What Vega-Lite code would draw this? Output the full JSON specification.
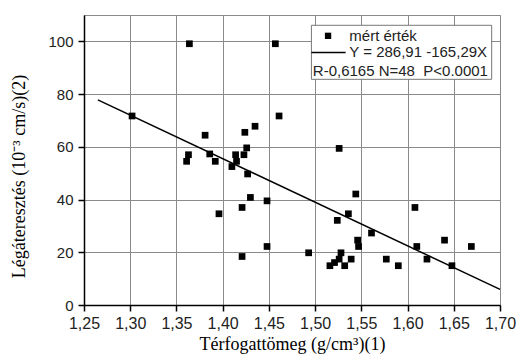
{
  "$schema": "https://vega.github.io/schema/vega-lite/v6.json",
  "width": 416,
  "height": 290,
  "autosize": {"type": "none"},
  "padding": {"left": 84, "top": 15, "right": 17, "bottom": 51},
  "background": "white",
  "config": {
    "view": {"stroke": "#8a8a8a", "strokeWidth": 1},
    "axis": {
      "grid": true,
      "gridColor": "#8a8a8a",
      "gridWidth": 1,
      "domainColor": "black",
      "domainWidth": 1.5,
      "tickColor": "black",
      "tickWidth": 1.5,
      "labelFont": "Liberation Sans",
      "labelFontSize": 15,
      "labelColor": "#222222",
      "labelOverlap": false,
      "labelFlush": false,
      "titleFont": "Liberation Serif",
      "titleFontSize": 18,
      "titleFontWeight": "normal",
      "titleColor": "black"
    }
  },
  "datasets": {
    "points": [
      {"density": 1.302, "permeability": 71.7},
      {"density": 1.361, "permeability": 54.5},
      {"density": 1.363, "permeability": 57.0},
      {"density": 1.364, "permeability": 99.1},
      {"density": 1.381, "permeability": 64.4},
      {"density": 1.386, "permeability": 57.3},
      {"density": 1.392, "permeability": 54.5},
      {"density": 1.396, "permeability": 34.6},
      {"density": 1.410, "permeability": 52.5},
      {"density": 1.414, "permeability": 57.0},
      {"density": 1.415, "permeability": 54.5},
      {"density": 1.421, "permeability": 37.0},
      {"density": 1.421, "permeability": 18.4},
      {"density": 1.423, "permeability": 57.0},
      {"density": 1.424, "permeability": 65.5},
      {"density": 1.426, "permeability": 59.6},
      {"density": 1.427, "permeability": 49.7},
      {"density": 1.430, "permeability": 40.8},
      {"density": 1.435, "permeability": 67.8},
      {"density": 1.448, "permeability": 39.5},
      {"density": 1.448, "permeability": 22.2},
      {"density": 1.457, "permeability": 99.1},
      {"density": 1.461, "permeability": 71.7},
      {"density": 1.493, "permeability": 19.8},
      {"density": 1.516, "permeability": 14.9},
      {"density": 1.521, "permeability": 16.1},
      {"density": 1.524, "permeability": 32.1},
      {"density": 1.526, "permeability": 17.4},
      {"density": 1.526, "permeability": 59.4},
      {"density": 1.528, "permeability": 19.8},
      {"density": 1.532, "permeability": 14.9},
      {"density": 1.536, "permeability": 34.6},
      {"density": 1.539, "permeability": 17.4},
      {"density": 1.544, "permeability": 42.1},
      {"density": 1.546, "permeability": 24.6},
      {"density": 1.547, "permeability": 22.2},
      {"density": 1.561, "permeability": 27.3},
      {"density": 1.577, "permeability": 17.4},
      {"density": 1.590, "permeability": 14.9},
      {"density": 1.608, "permeability": 37.0},
      {"density": 1.610, "permeability": 22.2},
      {"density": 1.621, "permeability": 17.4},
      {"density": 1.640, "permeability": 24.6},
      {"density": 1.648, "permeability": 14.9},
      {"density": 1.669, "permeability": 22.2}
    ],
    "fit": [
      {"density": 1.265, "permeability": 77.82},
      {"density": 1.70, "permeability": 5.92}
    ]
  },
  "layer": [
    {
      "data": {"name": "points"},
      "mark": {"type": "square", "size": 45, "color": "black", "opacity": 1},
      "encoding": {
        "x": {
          "field": "density",
          "type": "quantitative",
          "scale": {"domain": [1.25, 1.7], "nice": false, "zero": false},
          "axis": {
            "title": "Térfogattömeg (g/cm³)(1)",
            "values": [1.25, 1.275, 1.3, 1.325, 1.35, 1.375, 1.4, 1.425, 1.45, 1.475, 1.5, 1.525, 1.55, 1.575, 1.6, 1.625, 1.65, 1.675, 1.7],
            "labelExpr": "round(datum.value*40)%2==1 ? '' : replace(format(datum.value,'.2f'),'.',',')",
            "tickSize": {"condition": {"test": "round(datum.value*40)%2==1", "value": 3}, "value": 6},
            "gridOpacity": {"condition": {"test": "round(datum.value*40)%2==1", "value": 0}, "value": 1},
            "labelFontSize": 16,
            "labelPadding": 4,
            "titlePadding": 4
          }
        },
        "y": {
          "field": "permeability",
          "type": "quantitative",
          "scale": {"domain": [0, 110], "nice": false},
          "axis": {
            "title": "Légáteresztés (10⁻³ cm/s)(2)",
            "values": [0, 10, 20, 30, 40, 50, 60, 70, 80, 90, 100],
            "labelExpr": "datum.value % 20 == 10 ? '' : format(datum.value,'d')",
            "tickSize": {"condition": {"test": "datum.value % 20 == 10", "value": 3}, "value": 6},
            "gridOpacity": {"condition": {"test": "datum.value % 20 == 10", "value": 0}, "value": 1},
            "labelPadding": 5,
            "titlePadding": 19,
            "titleY": 161
          }
        }
      }
    },
    {
      "data": {"name": "fit"},
      "mark": {"type": "line", "color": "black", "strokeWidth": 1.5},
      "encoding": {
        "x": {"field": "density", "type": "quantitative"},
        "y": {"field": "permeability", "type": "quantitative"}
      }
    },
    {
      "data": {"values": [{}]},
      "mark": {"type": "rect", "fill": "white", "stroke": "#777777", "strokeWidth": 1},
      "encoding": {
        "x": {"datum": 1.496, "type": "quantitative"},
        "x2": {"datum": 1.691},
        "y": {"datum": 106.1, "type": "quantitative"},
        "y2": {"datum": 85.6}
      }
    },
    {
      "data": {"values": [{}]},
      "mark": {"type": "square", "size": 40, "color": "black", "opacity": 1},
      "encoding": {
        "x": {"datum": 1.514, "type": "quantitative"},
        "y": {"datum": 102.1, "type": "quantitative"}
      }
    },
    {
      "data": {"values": [{}]},
      "mark": {"type": "rule", "color": "black", "strokeWidth": 1.5},
      "encoding": {
        "x": {"datum": 1.496, "type": "quantitative"},
        "x2": {"datum": 1.533},
        "y": {"datum": 95.8, "type": "quantitative"}
      }
    },
    {
      "data": {"values": [{"label": "mért érték", "lx": 1.537, "ly": 102.1}, {"label": "Y = 286,91 -165,29X", "lx": 1.537, "ly": 95.8}, {"label": "R-0,6165 N=48\u00a0 P<0.0001", "lx": 1.4975, "ly": 88.6}]},
      "mark": {"type": "text", "align": "left", "baseline": "middle", "font": "Liberation Sans", "fontSize": 15, "color": "#222222"},
      "encoding": {
        "x": {"field": "lx", "type": "quantitative"},
        "y": {"field": "ly", "type": "quantitative"},
        "text": {"field": "label"}
      }
    }
  ]
}
